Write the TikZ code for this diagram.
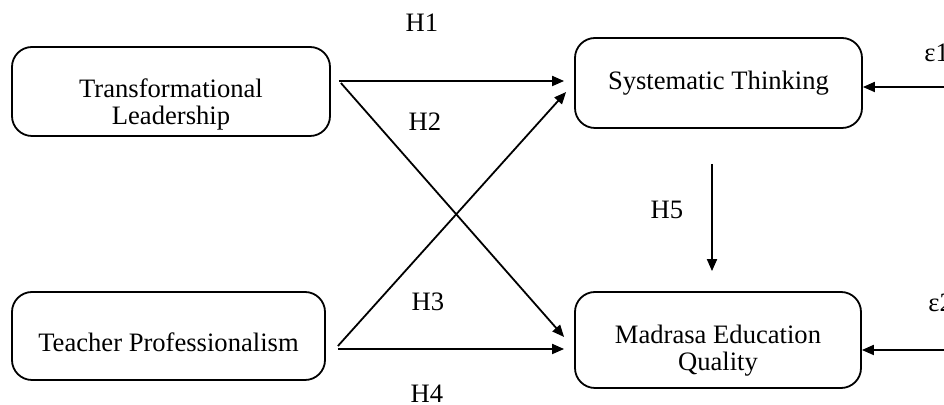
\documentclass[tikz,border=0pt]{standalone}
\usepackage{fontspec}
\setmainfont{Liberation Serif}
\usetikzlibrary{arrows.meta}

\begin{document}
\begin{tikzpicture}[x=0.5pt,y=-0.5pt,
        font=\fontsize{13.3}{13.5}\selectfont,
        var/.style={draw,line width=0.9pt,rounded corners=10pt,inner sep=0pt},
        txt/.style={align=center,inner sep=0pt},
        path/.style={line width=0.9pt,-{Triangle[length=6pt,width=5pt]}},
        hyp/.style={inner sep=1pt}
    ]
\useasboundingbox (0,0) rectangle (944,405);
% constructs
\node[var,minimum width=159pt,minimum height=44.5pt,
    label={[txt,name=TLtext,yshift=-6.5pt]center:Transformational\\Leadership}]
    (TL) at (171,91.5) {};
\node[var,minimum width=156.5pt,minimum height=44pt,
    label={[txt,name=TPtext,yshift=-3pt]center:Teacher Professionalism}]
    (TP) at (168.5,336) {};
\node[var,minimum width=143.5pt,minimum height=45pt,
    label={[txt,name=STtext]center:Systematic Thinking}]
    (ST) at (718.5,83) {};
\node[var,minimum width=143pt,minimum height=48pt,
    label={[txt,name=MEQtext,yshift=-5.5pt]center:Madrasa Education\\Quality}]
    (MEQ) at (718,340) {};
% error terms
\coordinate (e1in) at (944,87);
\coordinate (e2in) at (944,350);
\node[hyp,anchor=west] (e1) at (922,53) {ε1};
\node[hyp,anchor=west] (e2) at (926,303) {ε2};
% hypotheses
\draw[path] ([xshift=4pt,yshift=5.25pt]TL.east) -- ([xshift=-5pt,yshift=1pt]ST.west);
\draw[path] ([xshift=5pt,yshift=4.25pt]TL.east) -- ([xshift=-5pt,yshift=1.5pt]MEQ.west);
\draw[path] ([xshift=6pt,yshift=-5pt]TP.east) -- ([xshift=-4pt,yshift=-4.5pt]ST.west);
\draw[path] ([xshift=6pt,yshift=-6.5pt]TP.east) -- ([xshift=-5pt,yshift=-4.5pt]MEQ.west);
\draw[path] ([xshift=-3.25pt,yshift=-17.5pt]ST.south) -- ([xshift=-3pt,yshift=10pt]MEQ.north);
\draw[path] (e1in) -- (ST.east |- e1in);
\draw[path] (e2in) -- (MEQ.east |- e2in);
\node[hyp] (h1) at (422,23) {H1};
\node[hyp] (h2) at (425,122) {H2};
\node[hyp] (h3) at (428,302) {H3};
\node[hyp] (h4) at (427,394) {H4};
\node[hyp] (h5) at (667,210) {H5};
\end{tikzpicture}
\end{document}
